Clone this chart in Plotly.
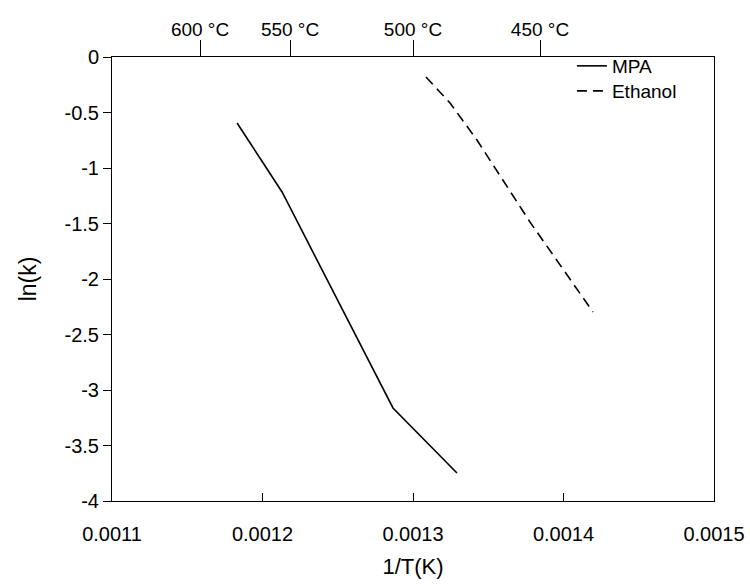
import plotly.graph_objects as go

# Data
mpa_x = [0.0011831, 0.0011983, 0.0012130, 0.0012867, 0.0013292]
mpa_y = [-0.595, -0.91, -1.216, -3.162, -3.748]

eth_x = [0.0013086, 0.0013246, 0.0013425, 0.0013777, 0.0014196]
eth_y = [-0.18, -0.414, -0.748, -1.486, -2.297]

x_ticks = [0.0011, 0.0012, 0.0013, 0.0014, 0.0015]
x_ticktext = ["0.0011", "0.0012", "0.0013", "0.0014", "0.0015"]
y_ticks = [0, -0.5, -1, -1.5, -2, -2.5, -3, -3.5, -4]
y_ticktext = ["0", "-0.5", "-1", "-1.5", "-2", "-2.5", "-3", "-3.5", "-4"]
top_ticks = [0.0011585, 0.0012183, 0.0013, 0.0013844]
top_ticktext = ["600 °C", "550 °C", "500 °C", "450 °C"]

FONT = "Liberation Sans, Arial, sans-serif"

fig = go.Figure()
fig.add_trace(go.Scatter(x=mpa_x, y=mpa_y, mode="lines", name="MPA",
                         legend="legend",
                         line=dict(color="black", width=1.6)))
fig.add_trace(go.Scatter(x=eth_x, y=eth_y, mode="lines", name="Ethanol",
                         legend="legend2",
                         line=dict(color="black", width=1.6, dash="10px,6px")))
# invisible helper trace so the top axis is drawn
fig.add_trace(go.Scatter(x=top_ticks, y=[None] * len(top_ticks), xaxis="x2",
                         mode="lines", showlegend=False, hoverinfo="skip"))

leg_common = dict(xanchor="left", yanchor="middle", bgcolor="rgba(0,0,0,0)",
                  borderwidth=0, font=dict(size=19))

fig.update_layout(
    width=750, height=588,
    margin=dict(l=112, r=36, t=57, b=87),
    paper_bgcolor="white", plot_bgcolor="white",
    font=dict(family=FONT, size=19, color="black"),
    showlegend=True,
    legend=dict(x=0.764, y=(444 - 9) / 444, **leg_common),
    legend2=dict(x=0.764, y=(444 - 34) / 444, **leg_common),
    xaxis=dict(
        range=[0.0011, 0.0015], tickvals=x_ticks, ticktext=x_ticktext,
        ticks="inside", ticklen=8, tickcolor="black", tickwidth=1,
        showline=True, linecolor="black", linewidth=1, mirror=True,
        showgrid=False, zeroline=False, ticklabelstandoff=15,
        automargin=False,
        title=dict(text="1/T(K)", font=dict(size=22), standoff=14),
        tickfont=dict(size=20),
    ),
    xaxis2=dict(
        range=[0.0011, 0.0015], overlaying="x", side="top", anchor="y",
        tickvals=top_ticks, ticktext=top_ticktext,
        ticks="outside", ticklen=16, tickcolor="black", tickwidth=1,
        showline=False, showgrid=False, zeroline=False,
        ticklabelstandoff=-4, automargin=False,
        tickfont=dict(size=19),
    ),
    yaxis=dict(
        range=[-4, 0], tickvals=y_ticks, ticktext=y_ticktext,
        ticks="outside", ticklen=8, tickcolor="black", tickwidth=1,
        showline=True, linecolor="black", linewidth=1, mirror=True,
        showgrid=False, zeroline=False, automargin=False,
        title=dict(text="ln(k)", font=dict(size=23), standoff=21),
        tickfont=dict(size=20),
    ),
)

fig.write_html("out.html")
